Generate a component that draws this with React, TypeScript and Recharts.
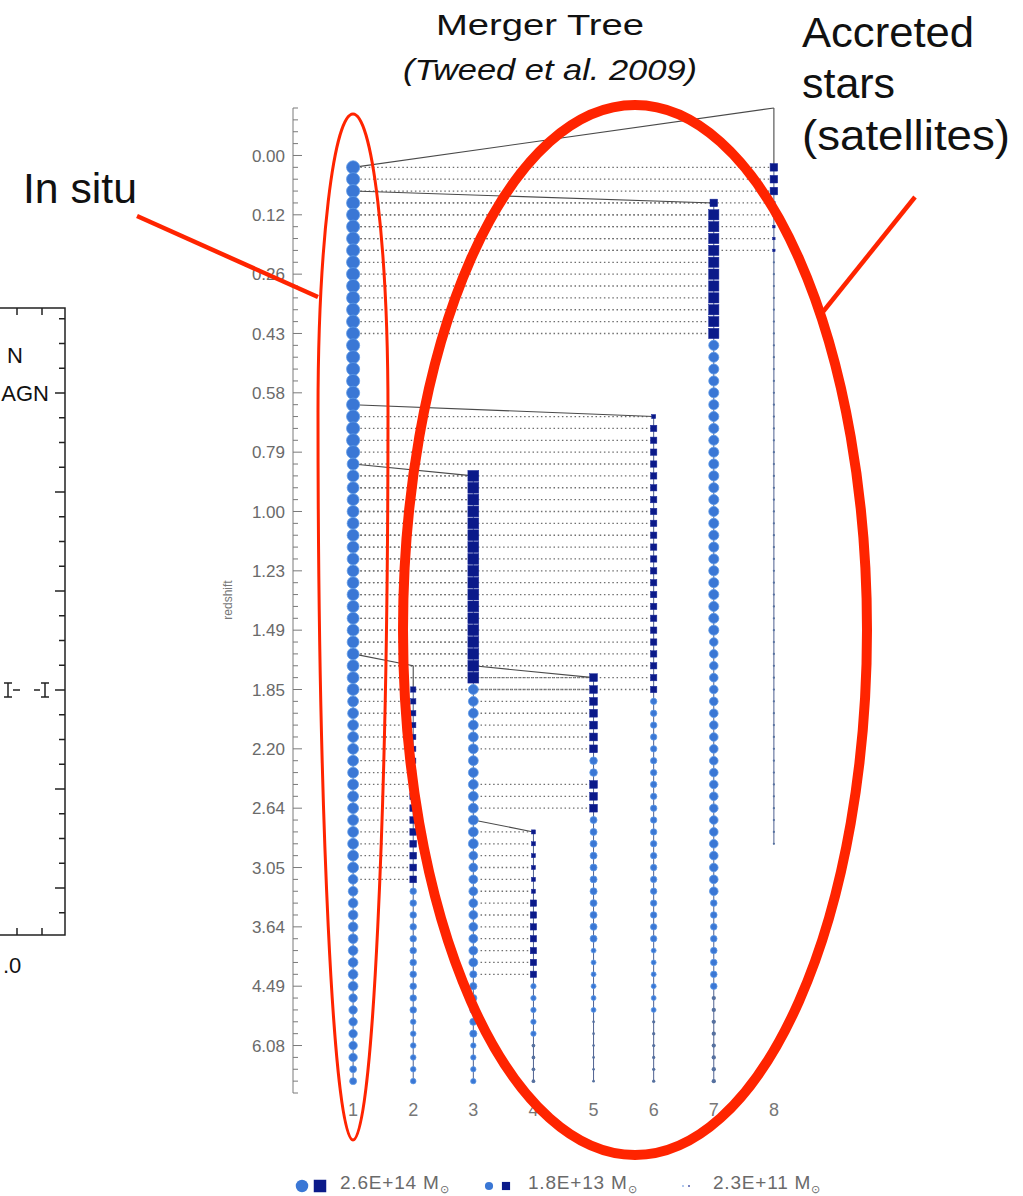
import React from 'react';
import { ScatterChart, Scatter, XAxis, YAxis, ReferenceLine } from 'recharts';

// one segment of a branch: marker kind ('o' circle = stars, 's' square = satellite), first row, last row, log10 mass
type Seg = [string, number, number, number];

const redshiftLabels = ['0.00', '0.12', '0.26', '0.43', '0.58', '0.79', '1.00', '1.23', '1.49', '1.85', '2.20', '2.64', '3.05', '3.64', '4.49', '6.08'];
const branchIds = [1, 2, 3, 4, 5, 6, 7, 8];

const branch1: Seg[] = [['o', 1, 25, 14.3], ['o', 26, 45, 14.0], ['o', 46, 60, 13.75], ['o', 61, 70, 13.45], ['o', 71, 76, 13.15], ['o', 77, 78, 12.8]];
const branch2: Seg[] = [['s', 45, 52, 12.4], ['s', 53, 61, 12.75], ['o', 62, 72, 12.7], ['o', 73, 78, 12.45]];
const branch3: Seg[] = [['s', 27, 44, 13.75], ['o', 45, 58, 13.5], ['o', 59, 68, 13.25], ['o', 69, 74, 12.85], ['o', 75, 78, 12.4]];
const branch4: Seg[] = [['s', 57, 62, 12.1], ['s', 63, 69, 12.65], ['o', 70, 74, 12.4], ['o', 75, 78, 12.0]];
const branch5: Seg[] = [['s', 44, 50, 13.0], ['o', 51, 52, 12.95], ['s', 53, 55, 13.0], ['o', 56, 66, 12.8], ['o', 67, 72, 12.3], ['o', 73, 78, 11.75]];
const branch6: Seg[] = [['s', 22, 22, 12.1], ['s', 23, 45, 12.65], ['o', 46, 66, 12.65], ['o', 67, 72, 12.3], ['o', 73, 78, 11.9]];
const branch7: Seg[] = [['s', 4, 4, 12.95], ['s', 5, 15, 13.6], ['o', 16, 40, 13.55], ['o', 41, 62, 13.2], ['o', 63, 70, 12.7], ['o', 71, 78, 12.15]];
const branch8: Seg[] = [['s', 1, 3, 12.95], ['s', 4, 8, 11.7], ['o', 9, 58, 11.65]];

const branchSegments = [branch1, branch2, branch3, branch4, branch5, branch6, branch7, branch8];
// branch each satellite falls into (0 = main branch)
const hostBranch = [0, 1, 1, 3, 3, 1, 1, 1];

// merger links as [branch, row] corners
const mergeLinks: [number, number][][] = [
  [[1, 1], [8, -4], [8, 1]],
  [[1, 3], [7, 4]],
  [[1, 21], [6, 22]],
  [[1, 26], [3, 27]],
  [[1, 42], [2, 43], [2, 45]],
  [[3, 43], [5, 44]],
  [[3, 56], [4, 57]],
];

const legendLabels = ['2.6E+14', '1.8E+13', '2.3E+11'];
const legendLogMass = [14.41, 13.26, 11.36];

const branchPoints = branchIds.map((id, i) => {
  const pts: { x: number; row: number; kind: string; logM: number }[] = [];
  branchSegments[i].forEach(([kind, a, b, logM]) => {
    for (let row = a; row <= b; row++) pts.push({ x: id, row, kind, logM });
  });
  return pts;
});

const dottedLinks: { from: number; to: number; row: number }[] = [];
branchIds.forEach((id, i) => {
  if (!hostBranch[i]) return;
  branchPoints[i].forEach((p) => {
    if (p.kind === 's') dottedLinks.push({ from: hostBranch[i], to: id, row: p.row });
  });
});

const tickRows = Array.from({ length: 84 }, (_, i) => i - 4);

const radius = (logM: number) => Math.max(0.8, (logM - 11.1) * 2.05);
const RED = '#ff2400';
const FONT = '"Liberation Sans", Arial, Helvetica, sans-serif';

function Marker(props: any) {
  const { cx, cy, payload } = props;
  if (cx == null || cy == null) return <g />;
  const r = radius(payload.logM);
  if (payload.kind === 's') {
    return <rect x={cx - r} y={cy - r} width={2 * r} height={2 * r} fill="#0b1a8a" stroke="#1a2a9a" strokeWidth={0.5} />;
  }
  const small = r < 2.4;
  return <circle cx={cx} cy={cy} r={r} fill={small ? '#55709f' : '#3a77d5'} stroke={small ? 'none' : '#5f9be6'} strokeWidth={0.8} />;
}

function RedshiftTick(props: any) {
  const { x, y, payload } = props;
  const v = payload.value;
  const major = v >= 0 && v <= 75 && v % 5 === 0;
  return (
    <g>
      <line x1={x} x2={x + (major ? 9 : 5)} y1={y} y2={y} stroke="#7a7a7a" strokeWidth={1} />
      {major && (
        <text x={x - 8} y={y} dy="0.36em" textAnchor="end" fill="#6a6a6a" fontSize={17} fontFamily={FONT}>
          {redshiftLabels[v / 5]}
        </text>
      )}
    </g>
  );
}

function Annotations() {
  const legendX = [[302, 320, 340], [489, 506, 528], [683, 689, 713]];
  return (
    <svg width={1023} height={1196} style={{ position: 'absolute', left: 0, top: 0, pointerEvents: 'none' }} fontFamily={FONT}>
      {/* cropped neighbouring figure */}
      <g stroke="#222" strokeWidth={1.5} fill="none">
        <polyline points="0,308 65,308 65,935 0,935" />
        <line x1={17} y1={308} x2={17} y2={315} />
        <line x1={42} y1={308} x2={42} y2={315} />
        <line x1={17} y1={935} x2={17} y2={928} />
        <line x1={42} y1={935} x2={42} y2={928} />
        {Array.from({ length: 25 }, (_, k) => {
          const y = 393 + 24.75 * (k - 3);
          const long = (k - 3) % 4 === 0;
          return <line key={k} x1={65} x2={long ? 55 : 59} y1={y} y2={y} />;
        })}
        <path d="M4 683 H12 M8 683 V697 M4 697 H12 M13 690 H20" />
        <path d="M41 683 H49 M45 683 V697 M41 697 H49 M34 690 H40" />
      </g>
      <g fill="#111" fontSize={22}>
        <text x={23} y={363} textAnchor="end">N</text>
        <text x={49} y={401} textAnchor="end">AGN</text>
        <text x={3} y={973}>.0</text>
      </g>

      <text x={232} y={600} transform="rotate(-90 232 600)" textAnchor="middle" fill="#777" fontSize={12}>redshift</text>

      {/* titles */}
      <text x={436} y={35} fontSize={30} fill="#111" textLength={208} lengthAdjust="spacingAndGlyphs">Merger Tree</text>
      <text x={403} y={80} fontSize={30} fill="#111" fontStyle="italic" textLength={294} lengthAdjust="spacingAndGlyphs">(Tweed et al. 2009)</text>
      <text x={23} y={203} fontSize={42} fill="#111" textLength={114} lengthAdjust="spacingAndGlyphs">In situ</text>
      <text x={802} y={47} fontSize={42} fill="#111" textLength={172} lengthAdjust="spacingAndGlyphs">Accreted</text>
      <text x={802} y={98} fontSize={42} fill="#111" textLength={93} lengthAdjust="spacingAndGlyphs">stars</text>
      <text x={802} y={150} fontSize={42} fill="#111" textLength={208} lengthAdjust="spacingAndGlyphs">(satellites)</text>

      {/* red annotations */}
      <path d="M318 412 A35 298 0 0 1 388 412 A35 728 0 0 1 318 412 Z" fill="none" stroke={RED} strokeWidth={3} />
      <ellipse cx={635} cy={630} rx={232} ry={525} fill="none" stroke={RED} strokeWidth={10} />
      <line x1={137} y1={216} x2={318} y2={297} stroke={RED} strokeWidth={4.5} />
      <line x1={915} y1={197} x2={818} y2={318} stroke={RED} strokeWidth={4.5} />

      {/* mass legend */}
      {legendLabels.map((lab, i) => {
        const r = radius(legendLogMass[i]) * 0.92;
        const [cxC, cxS, tx] = legendX[i];
        return (
          <g key={lab}>
            <circle cx={cxC} cy={1186} r={r} fill="#3a77d5" />
            <rect x={cxS - r} y={1186 - r} width={2 * r} height={2 * r} fill="#0b1a8a" />
            <text x={tx} y={1189} fontSize={19} fill="#6a6a6a" letterSpacing={0.8}>
              {lab + ' M'}
              <tspan dy={4} fontSize={11}>⊙</tspan>
            </text>
          </g>
        );
      })}
    </svg>
  );
}

export default function App() {
  return (
    <div style={{ position: 'absolute', left: 0, top: 0, width: 1023, height: 1196, background: '#fff', fontFamily: FONT }}>
      <ScatterChart width={1023} height={1196} margin={{ top: 108, right: 189, bottom: 73, left: 233 }}>
        <XAxis
          type="number"
          dataKey="x"
          domain={[0, 9]}
          ticks={branchIds}
          axisLine={false}
          tickLine={false}
          tickSize={0}
          tickMargin={10}
          height={30}
          tick={{ fill: '#777', fontSize: 18, fontFamily: FONT }}
        />
        <YAxis
          type="number"
          dataKey="row"
          domain={[-4, 79]}
          reversed
          ticks={tickRows}
          interval={0}
          width={60}
          tickSize={0}
          tickMargin={0}
          tickLine={false}
          axisLine={{ stroke: '#7a7a7a' }}
          tick={<RedshiftTick />}
        />
        {dottedLinks.map((d, k) => (
          <ReferenceLine
            key={'dot' + k}
            segment={[{ x: d.from + 0.12, y: d.row }, { x: d.to - 0.05, y: d.row }]}
            stroke="#6f6f6f"
            strokeWidth={1.3}
            strokeDasharray="1.5 2.7"
          />
        ))}
        {mergeLinks.flatMap((link, i) =>
          link.slice(1).map((p, j) => (
            <ReferenceLine
              key={'merge' + i + '-' + j}
              segment={[{ x: link[j][0], y: link[j][1] }, { x: p[0], y: p[1] }]}
              stroke="#4a4a4a"
              strokeWidth={1.1}
            />
          ))
        )}
        {branchPoints.map((pts, i) => (
          <Scatter
            key={'branch' + branchIds[i]}
            data={pts}
            line={{ stroke: '#4f6190', strokeWidth: 1 }}
            lineType="joint"
            shape={Marker}
            isAnimationActive={false}
          />
        ))}
      </ScatterChart>
      <Annotations />
    </div>
  );
}
